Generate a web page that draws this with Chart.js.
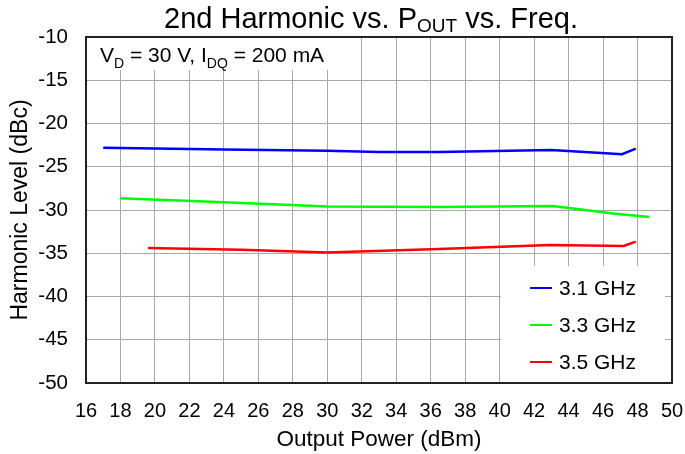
<!DOCTYPE html>
<html><head><meta charset="utf-8">
<script src="https://cdn.jsdelivr.net/npm/chart.js@4"></script>
<style>html,body{margin:0;padding:0;background:#fff}#wrap{width:685px;height:454px}</style>
</head><body><div id="wrap"><canvas id="c" width="685" height="454"></canvas></div>
<script>
const xTicks = [16,18,20,22,24,26,28,30,32,34,36,38,40,42,44,46,48,50];
const yTicks = [-10,-15,-20,-25,-30,-35,-40,-45,-50];
const seriesNames = ['3.1 GHz','3.3 GHz','3.5 GHz'];
const p31 = [17.0, 24.0, 30.0, 33.0, 36.5, 43.0, 47.1, 47.9];
const h31 = [-22.8, -23.0, -23.15, -23.3, -23.3, -23.05, -23.55, -22.9];
const p33 = [18.0, 24.0, 30.0, 36.5, 43.1, 46.6, 48.7];
const h33 = [-28.65, -29.1, -29.6, -29.65, -29.55, -30.4, -30.8];
const p35 = [19.6, 25.0, 30.0, 36.5, 42.9, 47.2, 47.9];
const h35 = [-34.4, -34.6, -34.9, -34.5, -34.05, -34.15, -33.65];
const colors = ['#0000ff','#00ff00','#ff0000'];

const FONT = 'Liberation Sans, Arial, sans-serif';
function pts(xs, ys){ return xs.map((x,i)=>({x:x,y:ys[i]})); }

function drawSubText(ctx, parts, x, y, size, subScale, subOff){
  let cx = x;
  parts.forEach(([t,sub])=>{
    ctx.font = (sub? Math.round(size*subScale) : size) + 'px ' + FONT;
    ctx.fillText(t, cx, sub ? y + size*subOff : y);
    cx += ctx.measureText(t).width;
  });
  return cx - x;
}
function measureSub(ctx, parts, size, subScale){
  let w=0;
  parts.forEach(([t,sub])=>{ ctx.font=(sub?Math.round(size*subScale):size)+'px '+FONT; w+=ctx.measureText(t).width; });
  return w;
}

const overlay = {
  id:'overlay',
  beforeDatasetsDraw(chart){
    const ctx = chart.ctx, a = chart.chartArea;
    ctx.save();
    ctx.fillStyle='#fff';
    ctx.fillRect(a.left, a.top, 259, 33);
    ctx.fillStyle='#000';
    ctx.textBaseline='alphabetic'; ctx.textAlign='left';
    drawSubText(ctx, [['V',0],['D',1],[' = 30 V, I',0],['DQ',1],[' = 200 mA',0]], a.left+14, a.top+25, 21, 0.65, 0.3);
    ctx.restore();
  },
  afterDatasetsDraw(chart){
    const ctx = chart.ctx, a = chart.chartArea;
    ctx.save();
    ctx.fillStyle='#fff';
    ctx.fillRect(501, 266, 164, a.bottom-266);
    const rows=[288,325,362];
    chart.data.datasets.forEach((ds,i)=>{
      ctx.strokeStyle=ds.borderColor; ctx.lineWidth=2;
      ctx.beginPath(); ctx.moveTo(530,rows[i]); ctx.lineTo(552,rows[i]); ctx.stroke();
      ctx.fillStyle='#000'; ctx.font='21px '+FONT; ctx.textBaseline='middle'; ctx.textAlign='left';
      ctx.fillText(ds.label, 559, rows[i]+1);
    });
    ctx.strokeStyle='#222'; ctx.lineWidth=2;
    ctx.strokeRect(a.left, a.top, a.right-a.left, a.bottom-a.top);
    ctx.fillStyle='#000'; ctx.textBaseline='alphabetic'; ctx.textAlign='left';
    const parts=[['2nd Harmonic vs. P',0],['OUT',1],[' vs. Freq.',0]];
    const w = measureSub(ctx, parts, 29, 0.66);
    drawSubText(ctx, parts, 371 - w/2, 28, 29, 0.66, 0.15);
    ctx.restore();
  }
};

new Chart(document.getElementById('c'), {
  type:'line',
  data:{
    datasets:[
      {label:seriesNames[0], data:pts(p31,h31), borderColor:colors[0]},
      {label:seriesNames[1], data:pts(p33,h33), borderColor:colors[1]},
      {label:seriesNames[2], data:pts(p35,h35), borderColor:colors[2]}
    ].map(d=>Object.assign(d,{borderWidth:2.5, pointRadius:0, tension:0, fill:false}))
  },
  options:{
    responsive:false, animation:false, devicePixelRatio:1,
    layout:{padding:{top:37, right:13, left:0, bottom:0}},
    plugins:{legend:{display:false}, tooltip:{enabled:false}, title:{display:false}},
    scales:{
      x:{type:'linear', min:16, max:50,
        afterFit(s){ s.height = 71; s.paddingRight = 0; s.paddingLeft = 0; },
        afterBuildTicks(s){ s.ticks = xTicks.map(v=>({value:v})); },
        grid:{color:'#a8a8a8', lineWidth:1, drawTicks:false},
        border:{display:false},
        ticks:{color:'#000', font:{size:20, family:FONT}, padding:16, maxRotation:0, autoSkip:false},
        title:{display:true, text:'Output Power (dBm)', color:'#000', font:{size:22.5, family:FONT}, padding:{top:0,bottom:1}}
      },
      y:{type:'linear', min:-50, max:-10,
        afterFit(s){ s.width = 86; s.paddingTop = 0; s.paddingBottom = 0; },
        afterBuildTicks(s){ s.ticks = yTicks.map(v=>({value:v})); },
        grid:{color:'#a8a8a8', lineWidth:1, drawTicks:false},
        border:{display:false},
        ticks:{color:'#000', font:{size:20.5, family:FONT}, padding:18, autoSkip:false},
        title:{display:true, text:'Harmonic Level (dBc)', color:'#000', font:{size:23, family:FONT}, padding:{top:7,bottom:0}}
      }
    }
  },
  plugins:[overlay]
});
</script></body></html>
